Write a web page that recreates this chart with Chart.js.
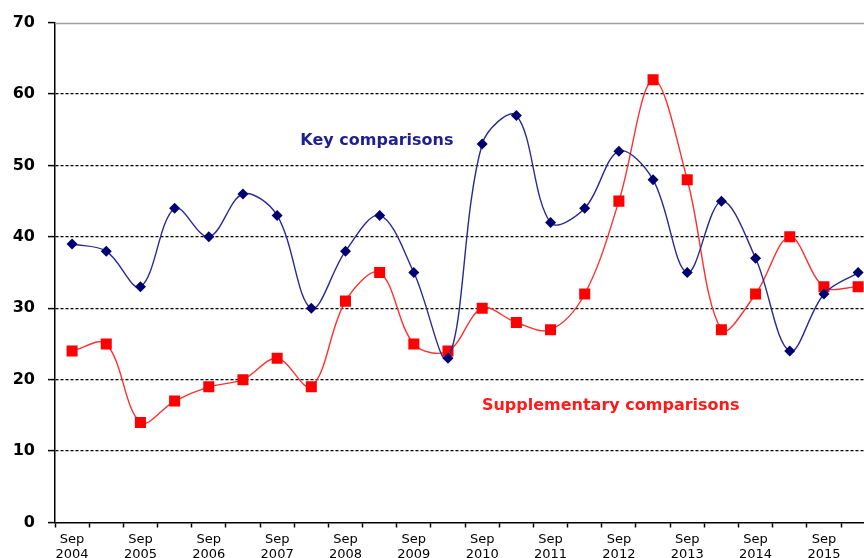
<!DOCTYPE html>
<html>
<head>
<meta charset="utf-8">
<script src="https://cdn.jsdelivr.net/npm/chart.js@4/dist/chart.umd.min.js"></script>
<style>
  html, body { margin: 0; padding: 0; background: #fff; overflow: hidden; width: 864px; height: 558px; }
  #wrap { width: 883px; height: 558px; }
</style>
</head>
<body>
<div id="wrap"><canvas id="c" width="883" height="558"></canvas></div>
<script>
const years = ["2004","2005","2006","2007","2008","2009","2010","2011","2012","2013","2014","2015"];
const keyComparisons = [39, 38, 33, 44, 40, 46, 43, 30, 38, 43, 35, 23, 53, 57, 42, 44, 52, 48, 35, 45, 37, 24, 32, 35];
const supplementaryComparisons = [24, 25, 14, 17, 19, 20, 23, 19, 31, 35, 25, 24, 30, 28, 27, 32, 45, 62, 48, 27, 32, 40, 33, 33];
const yTicks = [0, 10, 20, 30, 40, 50, 60, 70];
const seriesNames = ["Key comparisons", "Supplementary comparisons"];

const labels = [];
years.forEach(y => { labels.push(["Sep", y]); labels.push(""); });

const annotations = [
  { text: seriesNames[0], xIndex: 8.92, y: 53.5, color: "#1f1f8f" },
  { text: seriesNames[1], xIndex: 15.76, y: 16.3, color: "#ff1a1a" }
];

const extras = {
  id: "extras",
  afterDatasetsDraw(chart) {
    const { ctx, chartArea, scales } = chart;
    const x = scales.x, y = scales.y;
    ctx.save();
    const yt = Math.round(y.getPixelForValue(y.max)) + 0.5;
    ctx.strokeStyle = "#a0a0a0";
    ctx.lineWidth = 1.5;
    ctx.setLineDash([]);
    ctx.beginPath();
    ctx.moveTo(chartArea.left, yt);
    ctx.lineTo(chartArea.right, yt);
    ctx.stroke();
    ctx.font = "bold 16px 'DejaVu Sans', Verdana, sans-serif";
    ctx.textAlign = "center";
    ctx.textBaseline = "middle";
    const step = x.getPixelForValue(1) - x.getPixelForValue(0);
    annotations.forEach(a => {
      ctx.fillStyle = a.color;
      ctx.fillText(a.text, x.getPixelForValue(0) + a.xIndex * step, y.getPixelForValue(a.y));
    });
    ctx.restore();
  }
};

new Chart(document.getElementById("c"), {
  type: "line",
  data: {
    labels: labels,
    datasets: [
      {
        label: seriesNames[0],
        data: keyComparisons,
        borderColor: "#2a2a92",
        borderWidth: 1.4,
        backgroundColor: "#000070",
        pointBackgroundColor: "#000070",
        pointBorderColor: "#000070",
        pointStyle: "rectRot",
        pointRadius: 5.5,
        pointBorderWidth: 0,
        tension: 0.35,
        fill: false
      },
      {
        label: seriesNames[1],
        data: supplementaryComparisons,
        borderColor: "#ff3030",
        borderWidth: 1.4,
        backgroundColor: "#ff0000",
        pointBackgroundColor: "#ff0000",
        pointBorderColor: "#ff0000",
        pointStyle: "rect",
        pointRadius: 7.8,
        pointBorderWidth: 0,
        tension: 0.35,
        fill: false
      }
    ]
  },
  options: {
    responsive: false,
    animation: false,
    devicePixelRatio: 1,
    layout: { padding: { top: 20.5, left: 0, right: 0, bottom: 0 } },
    plugins: { legend: { display: false }, tooltip: { enabled: false } },
    scales: {
      x: {
        type: "category",
        offset: true,
        grid: {
          offset: true,
          drawOnChartArea: false,
          drawTicks: true,
          tickLength: 5,
          tickColor: "#000",
          tickWidth: 1.5
        },
        border: { display: true, color: "#000", width: 1.5 },
        ticks: {
          autoSkip: false,
          maxRotation: 0,
          minRotation: 0,
          padding: 5,
          color: "#000",
          font: { family: "'DejaVu Sans', Verdana, sans-serif", size: 13, lineHeight: 1.15 }
        },
        afterFit(scale) { scale.height = 35.5; }
      },
      y: {
        min: 0,
        max: 70,
        afterBuildTicks(scale) { scale.ticks = yTicks.map(v => ({ value: v })); },
        grid: {
          drawTicks: true,
          tickLength: 7,
          tickColor: "#000",
          tickWidth: 1.5,
          tickBorderDash: [],
          lineWidth: 1.2,
          color: ctx => (ctx.tick && (ctx.tick.value === 0 || ctx.tick.value === 70)) ? "rgba(0,0,0,0)" : "#000"
        },
        border: { display: true, color: "#000", width: 1.5, dash: [3, 2] },
        ticks: {
          padding: 13,
          color: "#000",
          font: { family: "'DejaVu Sans', Verdana, sans-serif", size: 16, weight: "bold" }
        },
        afterFit(scale) { scale.width = 55; }
      }
    }
  },
  plugins: [extras]
});
</script>
</body>
</html>
